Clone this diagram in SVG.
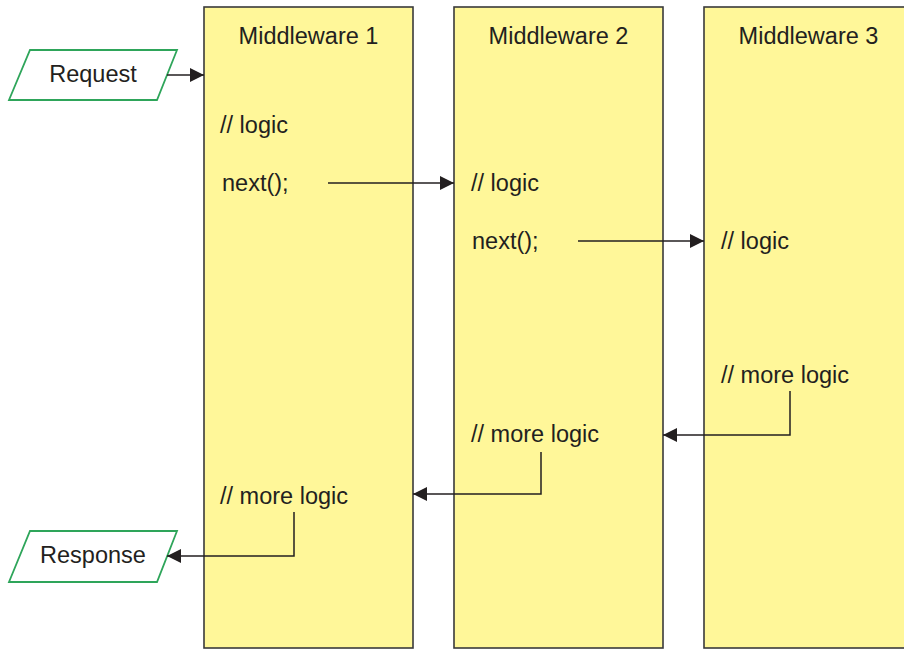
<svg xmlns="http://www.w3.org/2000/svg" width="904" height="650" viewBox="0 0 904 650">
<style>
.col{fill:#FFF799;stroke:#3a3a3a;stroke-width:1.6}
.io{fill:#fff;stroke:#2ea55a;stroke-width:1.8}
text{font-family:"Liberation Sans",Arial,sans-serif;font-size:23.5px;fill:#231f20}
.t{text-anchor:middle}
.c{fill:none;stroke:#231f20;stroke-width:1.5}
</style>
<defs>
<marker id="ah" viewBox="0 0 14 14" refX="14" refY="7" markerWidth="14" markerHeight="14" markerUnits="userSpaceOnUse" orient="auto">
<path d="M0,0 L14,7 L0,14 Z" fill="#231f20"/>
</marker>
</defs>
<rect width="904" height="650" fill="#fff"/>
<g id="mw1">
<rect class="col" x="204" y="7" width="209" height="641"/>
<text class="t" x="308.5" y="44">Middleware 1</text>
<text x="220" y="133">// logic</text>
<text x="222" y="191">next();</text>
<text x="220" y="504">// more logic</text>
</g>
<g id="mw2">
<rect class="col" x="454" y="7" width="209" height="641"/>
<text class="t" x="558.5" y="44">Middleware 2</text>
<text x="471" y="191">// logic</text>
<text x="472" y="249">next();</text>
<text x="471" y="442">// more logic</text>
</g>
<g id="mw3">
<rect class="col" x="704" y="7" width="220" height="641"/>
<text class="t" x="808.5" y="44">Middleware 3</text>
<text x="721" y="249">// logic</text>
<text x="721" y="383">// more logic</text>
</g>
<g id="request">
<polygon class="io" points="30,50 177,50 157,100 9,100"/>
<text class="t" x="93" y="82">Request</text>
</g>
<g id="response">
<polygon class="io" points="30,531 177,531 157,582 9,582"/>
<text class="t" x="93" y="563">Response</text>
</g>
<g id="connectors">
<path class="c" d="M167,75 H204" marker-end="url(#ah)"/>
<path class="c" d="M328,183 H454" marker-end="url(#ah)"/>
<path class="c" d="M578,241 H704" marker-end="url(#ah)"/>
<path class="c" d="M790,391 V435 H663" marker-end="url(#ah)"/>
<path class="c" d="M541,452 V494 H413" marker-end="url(#ah)"/>
<path class="c" d="M294,512 V556 H167" marker-end="url(#ah)"/>
</g>
</svg>
